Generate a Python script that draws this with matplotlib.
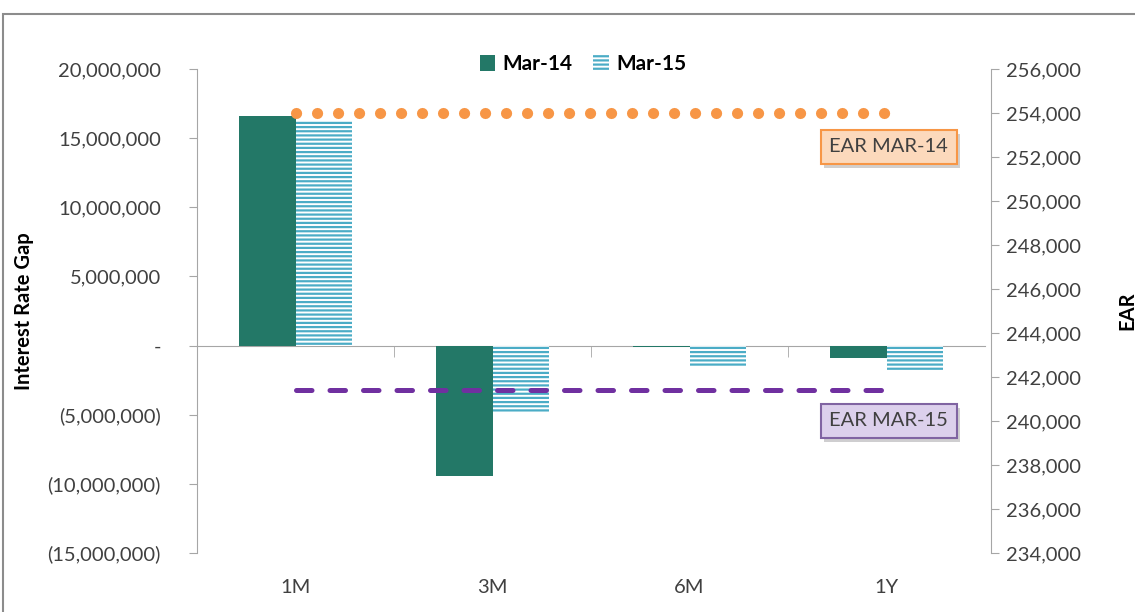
import matplotlib
matplotlib.use("Agg")
import matplotlib.pyplot as plt
import numpy as np
from matplotlib.patches import Patch, Rectangle
from matplotlib.ticker import FuncFormatter, FixedLocator
import matplotlib.patheffects as pe
from matplotlib.transforms import blended_transform_factory

categories = ["1M", "3M", "6M", "1Y"]
mar14 = [16_600_000, -9_450_000, -120_000, -900_000]
mar15 = [16_300_000, -4_850_000, -1_500_000, -1_800_000]
ear_mar14 = [254_000, 254_000, 254_000, 254_000]
ear_mar15 = [241_400, 241_400, 241_400, 241_400]
left_ticks = [-15_000_000, -10_000_000, -5_000_000, 0, 5_000_000, 10_000_000, 15_000_000, 20_000_000]
right_ticks = list(range(234_000, 256_001, 2_000))

plt.rcParams['font.family'] = ['Lato', 'DejaVu Sans']
plt.rcParams['hatch.linewidth'] = 1.6

TEAL = "#237867"
BLUE = "#4BACC6"
ORANGE = "#F79646"
PURPLE = "#7030A0"
GRAY = "#A6A6A6"
TXT = "#404040"
FS = 14.5

fig = plt.figure(figsize=(11.35, 6.12), dpi=100)
ax = fig.add_axes([197/1135, 1-553/612, 788/1135, 484/612])
ax2 = ax.twinx()

x = np.arange(len(categories))
w = 0.285
ax.bar(x - w/2, mar14, width=w, color=TEAL, linewidth=0, zorder=2)
ax.bar(x + w/2, mar15, width=w, color="white", edgecolor=BLUE, hatch="----", linewidth=0, zorder=2)

ax.set_xlim(-0.5, len(categories) - 0.5)
ax.set_ylim(-15_000_000, 20_000_000)

def lfmt(v, pos):
    if abs(v) < 1:
        return "-"
    if v < 0:
        return "({:,.0f})".format(-v)
    return "{:,.0f}".format(v)

ax.yaxis.set_major_locator(FixedLocator(left_ticks))
ax.yaxis.set_major_formatter(FuncFormatter(lfmt))
ax.tick_params(axis='y', direction='out', length=6, color=GRAY, labelsize=FS, labelcolor=TXT, pad=20)

ax.spines['top'].set_visible(False)
ax.spines['right'].set_visible(False)
ax.spines['left'].set_color(GRAY)
ax.spines['bottom'].set_position(('data', 0))
ax.spines['bottom'].set_color(GRAY)
ax.spines['bottom'].set_zorder(1)
ax.set_xticks(x)
ax.set_xticklabels([])
ax.tick_params(axis='x', which='major', length=0)
ax.set_xticks(x[:-1] + 0.5, minor=True)
ax.tick_params(axis='x', which='minor', length=8, direction='out', color=GRAY)

trans = blended_transform_factory(ax.transData, ax.transAxes)
for xi, c in zip(x, categories):
    ax.text(xi, -0.072, c, transform=trans, ha='center', va='center', fontsize=FS, color=TXT)

ax.set_ylabel("Interest Rate Gap", fontsize=FS, fontweight='bold', color='black', labelpad=10)

# secondary axis
ax2.set_ylim(234_000, 256_000)
ax2.yaxis.set_major_locator(FixedLocator(right_ticks))
ax2.yaxis.set_major_formatter(FuncFormatter(lambda v, p: "{:,.0f}".format(v)))
ax2.tick_params(axis='y', direction='out', length=6, color=GRAY, labelsize=FS, labelcolor=TXT, pad=5)
for s in ['top', 'left', 'bottom']:
    ax2.spines[s].set_visible(False)
ax2.spines['right'].set_color(GRAY)
ax2.spines['right'].set_position(('outward', 4))
ax2.set_ylabel("EAR", fontsize=FS, fontweight='bold', color='black', labelpad=26)

ax2.plot(x, ear_mar14, color=ORANGE, linewidth=8.0, linestyle=(0, (0.01, 1.88)),
         dash_capstyle='round', zorder=3)
ax2.plot(x, ear_mar15, color=PURPLE, linewidth=3.6, linestyle=(0, (3.1, 3.6)),
         dash_capstyle='round', zorder=3)

t1 = ax2.text(0.878, 0.839, "EAR MAR-14", transform=ax.transAxes, ha='center', va='center',
              fontsize=FS, color=TXT,
              bbox=dict(boxstyle='square,pad=0.42', facecolor='#FCD9BC', edgecolor=ORANGE, linewidth=1.5))
t2 = ax2.text(0.878, 0.273, "EAR MAR-15", transform=ax.transAxes, ha='center', va='center',
              fontsize=FS, color=TXT,
              bbox=dict(boxstyle='square,pad=0.42', facecolor='#DCD0EC', edgecolor='#8064A2', linewidth=1.5))
for t in (t1, t2):
    t.get_bbox_patch().set_path_effects([pe.SimplePatchShadow(offset=(2, -3), alpha=0.25), pe.Normal()])

handles = [Patch(facecolor=TEAL, edgecolor=TEAL, linewidth=0),
           Patch(facecolor='white', edgecolor=BLUE, hatch='----', linewidth=0)]
leg = ax.legend(handles, ["Mar-14", "Mar-15"], loc='center', bbox_to_anchor=(0.49, 1.01), ncol=2,
                frameon=False, prop={'weight': 'bold', 'size': 15}, handlelength=0.75, handleheight=0.75,
                handletextpad=0.35, columnspacing=1.0)

# figure frame
fig.patches.append(Rectangle((3/1135, -0.05), 1.2, 1 - 14/612 + 0.05, transform=fig.transFigure,
                             fill=False, edgecolor='#8C8C8C', linewidth=1.5))

fig.savefig("out.png", dpi=100)
